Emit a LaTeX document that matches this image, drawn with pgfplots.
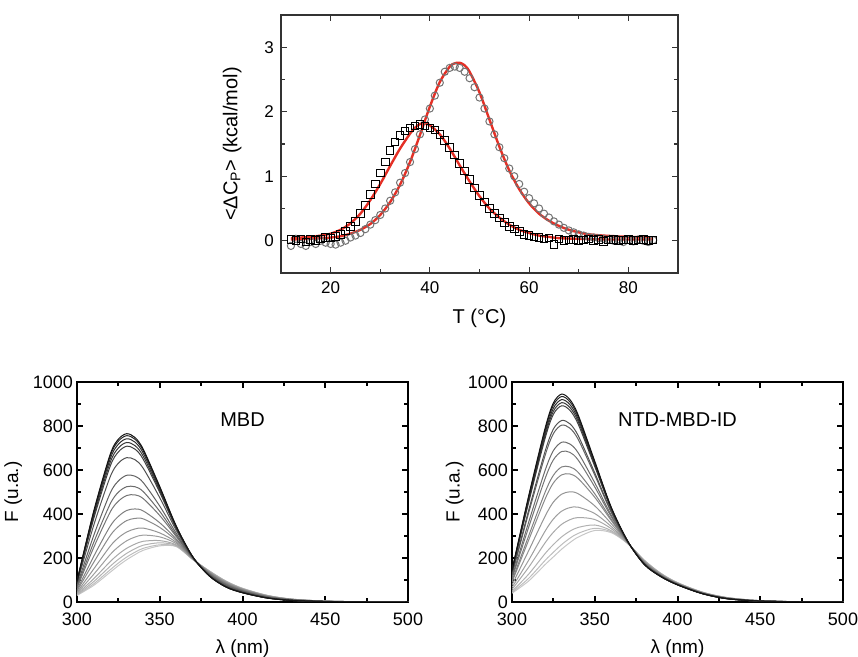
\documentclass[border=0pt]{standalone}
\usepackage{fontspec}
\setmainfont{Liberation Sans}
\usepackage{pgfplots}
\usepackage{pgfplotstable}
\pgfplotsset{compat=1.18}

\pgfplotstableread{
l c1 c2 c3 c4 c5 c6 c7 c8 c9 c10 c11 c12 c13 c14 c15 c16 c17
300 95 94 92 90 88 83 74 68 63 55 50 44 40 36 33 31 30
310 410 405 397 387 376 346 300 269 246 206 179 149 125 105 92 82 75
320 670 662 649 633 616 568 494 445 408 344 301 253 215 183 162 146 135
325 740 731 717 700 682 631 550 499 458 389 343 292 251 217 194 177 165
330 765 756 742 725 708 656 576 524 484 416 370 318 278 244 221 204 192
335 748 740 727 711 695 647 572 524 487 423 380 332 295 263 242 226 215
340 695 688 677 663 649 608 543 502 470 414 378 336 304 276 258 244 235
350 525 521 514 506 498 474 436 412 393 360 339 314 296 279 269 260 255
360 345 343 340 337 334 325 312 303 297 286 279 271 265 259 256 253 252
370 205 205 204 204 203 202 201 200 199 198 197 196 195 194 194 193 193
380 118 118 119 119 120 122 125 127 128 131 133 136 137 139 140 141 141
390 68 68 69 70 71 73 77 79 81 84 87 89 91 93 94 95 95
400 42 42 43 43 44 46 49 50 52 54 56 58 59 60 61 62 62
415 18 18 18 19 19 20 22 23 24 25 26 27 28 29 29 30 30
430 7 7 7 7 8 8 9 10 10 11 11 12 12 12 13 13 13
450 2 2 2 2 2 2 3 3 3 3 3 4 4 4 4 4 4
475 0 0 0 0 0 0 0 0 1 1 1 1 1 1 1 1 1
500 0 0 0 0 0 0 0 0 0 0 0 0 0 0 0 0 0
}\tblA

\pgfplotstableread{
l c1 c2 c3 c4 c5 c6 c7 c8 c9 c10 c11 c12 c13 c14 c15 c16 c17
300 145 143 141 139 137 127 124 112 106 96 90 77 66 57 48 43 40
310 480 474 467 459 451 415 403 361 338 299 280 232 189 157 126 107 95
320 790 781 768 756 744 685 666 598 561 499 468 390 322 269 220 189 170
325 905 895 881 867 853 786 765 688 646 576 541 454 377 317 261 226 205
330 945 934 920 906 892 825 804 726 684 614 578 490 413 353 296 261 240
335 920 910 897 884 871 810 790 718 680 614 582 501 429 374 322 290 270
340 850 842 831 820 808 756 739 678 645 589 561 492 431 384 339 312 295
350 640 635 629 623 616 587 577 542 523 492 476 437 402 375 350 335 325
360 430 428 426 424 421 411 407 394 387 376 370 356 343 333 324 319 315
370 275 275 275 275 274 273 273 272 271 270 270 269 268 267 266 265 265
380 170 170 171 171 172 173 174 176 177 179 180 183 185 187 188 189 190
390 115 115 116 116 116 118 118 120 120 122 123 125 126 128 129 130 130
400 78 78 78 79 79 80 80 81 82 83 83 84 86 86 87 88 88
415 38 38 38 38 39 39 39 40 41 41 42 43 43 44 44 45 45
430 15 15 15 15 15 16 16 17 17 17 18 18 19 19 20 20 20
450 4 4 4 4 4 4 4 5 5 5 5 5 6 6 6 6 6
475 1 1 1 1 1 1 1 1 1 1 1 1 1 1 1 1 1
500 0 0 0 0 0 0 0 0 0 0 0 0 0 0 0 0 0
}\tblB

\definecolor{fitred}{RGB}{228,48,38}

\newcommand{\spec}[3]{\addplot[draw=black!#3, line width=0.5pt, smooth, tension=0.5] table[x=l,y=c#2]{#1};}

\pgfplotsset{
  specaxis/.style={
    scale only axis, width=165.5pt, height=110pt,
    xmin=300, xmax=500, ymin=0, ymax=1000,
    xtick={300,350,...,500}, ytick={0,200,...,1000},
    minor x tick num=1, minor y tick num=1,
    tick align=inside,
    axis line style={black, line width=1pt},
    every tick/.style={black, line width=1pt},
    major tick length=3pt, minor tick length=2pt,
    tick label style={font=\fontsize{9}{10}\selectfont},
    /pgf/number format/assume math mode=true,
    /pgf/number format/1000 sep={},
    xticklabel style={yshift=-2pt},
    yticklabel style={xshift=1.5pt},
    xlabel={λ (nm)}, ylabel={F (u.a.)},
    label style={font=\fontsize{9.5}{11}\selectfont},
    xlabel style={at={(axis description cs:0.5,-0.21)}, anchor=center},
    clip=true,
  }
}

\begin{document}
\begin{tikzpicture}
\path[use as bounding box] (0,0) rectangle (429pt,-328.5pt);

\begin{axis}[
  at={(140.5pt,-7.5pt)}, anchor=north west,
  scale only axis, width=198.5pt, height=129pt,
  xmin=10, xmax=90, ymin=-0.5, ymax=3.5,
  xtick={20,40,60,80}, ytick={0,1,2,3},
  minor xtick={30,50,70}, minor ytick={0.5,1.5,2.5},
  tick align=inside,
  axis line style={black!80, line width=0.6pt},
  every tick/.style={black!80, line width=0.6pt},
  major tick length=3pt, minor tick length=1.8pt,
  tick label style={font=\fontsize{8.5}{10}\selectfont},
  /pgf/number format/assume math mode=true,
  xticklabel style={yshift=-1pt},
  xlabel={T (°C)},
  ylabel={<ΔC\textsubscript{P}> (kcal/mol)},
  label style={font=\fontsize{10}{12}\selectfont},
  xlabel style={at={(axis description cs:0.5,-0.174)}, anchor=center},
  ylabel style={at={(axis description cs:-0.123,0.5)}, anchor=center},
]
\addplot[only marks, mark=o, mark size=1.8pt, draw=black!55, mark options={line width=0.5pt}] coordinates {
(12,-0.08)(13,0.03)(14,-0.05)(15,-0.08)(16,-0.02)(17,-0.05)(18,0.0)(19,-0.03)(20,-0.05)(21,-0.06)(22,-0.03)(23,0.0)(24,0.05)(25,0.08)(26,0.12)(27,0.18)(28,0.25)(29,0.32)(30,0.4)(31,0.5)(32,0.62)(33,0.75)(34,0.9)(35,1.05)(36,1.22)(37,1.42)(38,1.65)(39,1.88)(40,2.05)(41,2.25)(42,2.45)(43,2.62)(44,2.68)(45,2.7)(46,2.68)(47,2.62)(48,2.52)(49,2.38)(50,2.22)(51,2.05)(52,1.85)(53,1.65)(54,1.45)(55,1.28)(56,1.12)(57,1.0)(58,0.88)(59,0.76)(60,0.66)(61,0.58)(62,0.5)(63,0.42)(64,0.36)(65,0.3)(66,0.25)(67,0.2)(68,0.16)(69,0.13)(70,0.1)(71,0.08)(72,0.06)(73,0.05)(74,0.04)(75,0.03)(76,0.02)(77,0.0)(78,0.02)(79,-0.02)(80,0.01)(81,-0.01)(82,0.02)(83,0.0)(84,-0.02)(85,0.01)
};
\addplot[only marks, mark=square, mark size=1.9pt, draw=black, mark options={line width=0.5pt}] coordinates {
(12,0.02)(13,0.0)(14,0.03)(15,-0.02)(16,0.02)(17,0.0)(18,0.03)(19,0.05)(20,0.04)(21,0.07)(22,0.1)(23,0.15)(24,0.22)(25,0.3)(26,0.42)(27,0.55)(28,0.72)(29,0.88)(30,1.05)(31,1.22)(32,1.4)(33,1.53)(34,1.63)(35,1.7)(36,1.75)(37,1.78)(38,1.8)(39,1.78)(40,1.75)(41,1.72)(42,1.65)(43,1.55)(44,1.45)(45,1.33)(46,1.2)(47,1.08)(48,0.95)(49,0.82)(50,0.7)(51,0.6)(52,0.5)(53,0.42)(54,0.35)(55,0.28)(56,0.22)(57,0.18)(58,0.14)(59,0.1)(60,0.08)(61,0.06)(62,0.05)(63,0.03)(64,0.04)(65,-0.06)(66,0.03)(67,0.0)(68,0.01)(69,0.02)(70,0.0)(71,0.01)(72,0.03)(73,0.0)(74,0.02)(75,-0.01)(76,0.01)(77,0.02)(78,0.0)(79,0.01)(80,0.02)(81,0.0)(82,0.01)(83,0.02)(84,0.0)(85,0.01)
};
\addplot[fitred, line width=1.2pt, smooth] coordinates {
(12,0.04)(14,0.05)(16,0.06)(18,0.08)(20,0.11)(22,0.17)(24,0.27)(26,0.42)(28,0.63)(30,0.88)(32,1.16)(34,1.43)(36,1.66)(37,1.75)(38,1.81)(39,1.82)(40,1.79)(42,1.65)(44,1.43)(46,1.17)(48,0.92)(50,0.69)(52,0.5)(54,0.36)(56,0.25)(58,0.17)(60,0.12)(62,0.08)(64,0.06)(66,0.04)(70,0.03)(75,0.02)(80,0.02)(85,0.02)
};
\addplot[fitred, line width=1.2pt, smooth] coordinates {
(12,0.02)(16,0.03)(20,0.05)(22,0.07)(24,0.11)(26,0.17)(28,0.26)(30,0.4)(32,0.6)(34,0.87)(36,1.22)(38,1.64)(40,2.08)(42,2.46)(44,2.7)(45,2.75)(46,2.76)(47,2.72)(48,2.62)(50,2.3)(52,1.88)(54,1.46)(56,1.09)(58,0.8)(60,0.58)(62,0.42)(64,0.31)(66,0.23)(68,0.17)(70,0.13)(72,0.1)(75,0.08)(80,0.06)(85,0.05)
};
\end{axis}

\begin{axis}[specaxis, at={(38.5pt,-191pt)}, anchor=north west,
  ylabel style={at={(axis description cs:-0.193,0.5)}, anchor=center}]
\spec{\tblA}{17}{22}
\spec{\tblA}{16}{26}
\spec{\tblA}{15}{30}
\spec{\tblA}{14}{34}
\spec{\tblA}{13}{38}
\spec{\tblA}{12}{42}
\spec{\tblA}{11}{46}
\spec{\tblA}{10}{50}
\spec{\tblA}{9}{54}
\spec{\tblA}{8}{58}
\spec{\tblA}{7}{62}
\spec{\tblA}{6}{68}
\spec{\tblA}{5}{75}
\spec{\tblA}{4}{78}
\spec{\tblA}{3}{82}
\spec{\tblA}{2}{86}
\spec{\tblA}{1}{92}
\node[font=\fontsize{10}{12}\selectfont] at (axis cs:400,830) {MBD};
\end{axis}

\begin{axis}[specaxis, at={(256pt,-191pt)}, anchor=north west,
  ylabel style={at={(axis description cs:-0.173,0.5)}, anchor=center}]
\spec{\tblB}{17}{22}
\spec{\tblB}{16}{26}
\spec{\tblB}{15}{30}
\spec{\tblB}{14}{34}
\spec{\tblB}{13}{38}
\spec{\tblB}{12}{42}
\spec{\tblB}{11}{46}
\spec{\tblB}{10}{50}
\spec{\tblB}{9}{54}
\spec{\tblB}{8}{58}
\spec{\tblB}{7}{62}
\spec{\tblB}{6}{68}
\spec{\tblB}{5}{75}
\spec{\tblB}{4}{78}
\spec{\tblB}{3}{82}
\spec{\tblB}{2}{86}
\spec{\tblB}{1}{92}
\node[font=\fontsize{10}{12}\selectfont] at (axis cs:400,830) {NTD-MBD-ID};
\end{axis}
\end{tikzpicture}
\end{document}
